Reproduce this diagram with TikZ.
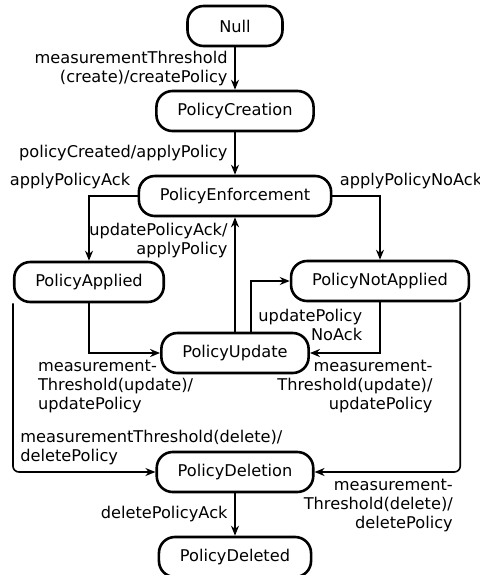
\documentclass[tikz,border=0pt]{standalone}
\usepackage{fontspec}
\setmainfont{DejaVu Sans}
\usetikzlibrary{arrows.meta, positioning}
\tikzstyle{state} = [rectangle, rounded corners=8pt, minimum width=47.5pt, minimum height=20pt, inner xsep=10.5pt, text centered, draw=black, line width=1.3pt]
\tikzstyle{arrow} = [line width=0.8pt, -{Stealth[length=5pt, width=4pt]}]

\begin{document}
\begin{tikzpicture}[
				x=0.5pt, y=-0.5pt,
				node distance=21.2pt,
				font=\fontsize{8.1pt}{9.5pt}\selectfont
			]
			\useasboundingbox (0,0) rectangle (480,575);

			% main column
			\node[state] (null) at (235,26) {Null};
			\node[state, below=of null] (creation) {PolicyCreation};
			\node[state, below=of creation] (enforcement) {PolicyEnforcement};
			\node[state, below=57.2pt of enforcement] (update) {PolicyUpdate};
			\node[state, below=38.2pt of update] (deletion) {PolicyDeletion};
			\node[state, below=of deletion] (deleted) {PolicyDeleted};

			% side states
			\node[state] (applied) at (89,282) {PolicyApplied};
			\node[state] (notapplied) at (380,281) {PolicyNotApplied};

			\draw[arrow] (null) -- node[left, align=right] {measurementThreshold\\(create)/createPolicy} (creation);
			\draw[arrow] (creation) -- node[left] {policyCreated/applyPolicy} (enforcement);
			\draw[arrow] (enforcement.west) node[above left] {applyPolicyAck} -| (applied.north);
			\draw[arrow] (enforcement.east) node[above right] {applyPolicyNoAck} -| (notapplied.north);
			\draw[arrow] (update) -- node[left, align=right, pos=0.8] {updatePolicyAck/\\applyPolicy} (enforcement);

			% back to PolicyUpdate
			\draw[arrow] (applied) |- node[below, align=left, pos=0.75, xshift=-4.5pt] {measurement-\\Threshold(update)/\\updatePolicy} (update);
			\draw[arrow] (notapplied) |- node[below, align=right, pos=0.75, xshift=5pt] {measurement-\\Threshold(update)/\\updatePolicy} (update);
			\draw[arrow] ([xshift=8pt]update.north) |- node[right, align=right, pos=0.07] {updatePolicy\\NoAck} (notapplied.west);

			% deletion
			\draw[arrow, rounded corners=3pt] (applied.south west) |- node[above right, align=left, pos=0.5] {measurementThreshold(delete)/\\deletePolicy} (deletion.west);
			\draw[arrow, rounded corners=3pt] ([xshift=-5pt]notapplied.south east) |- node[below left, align=right, pos=0.5] {measurement-\\Threshold(delete)/\\deletePolicy} (deletion.east);
			\draw[arrow] (deletion) -- node[left] {deletePolicyAck} (deleted);
		\end{tikzpicture}
\end{document}
